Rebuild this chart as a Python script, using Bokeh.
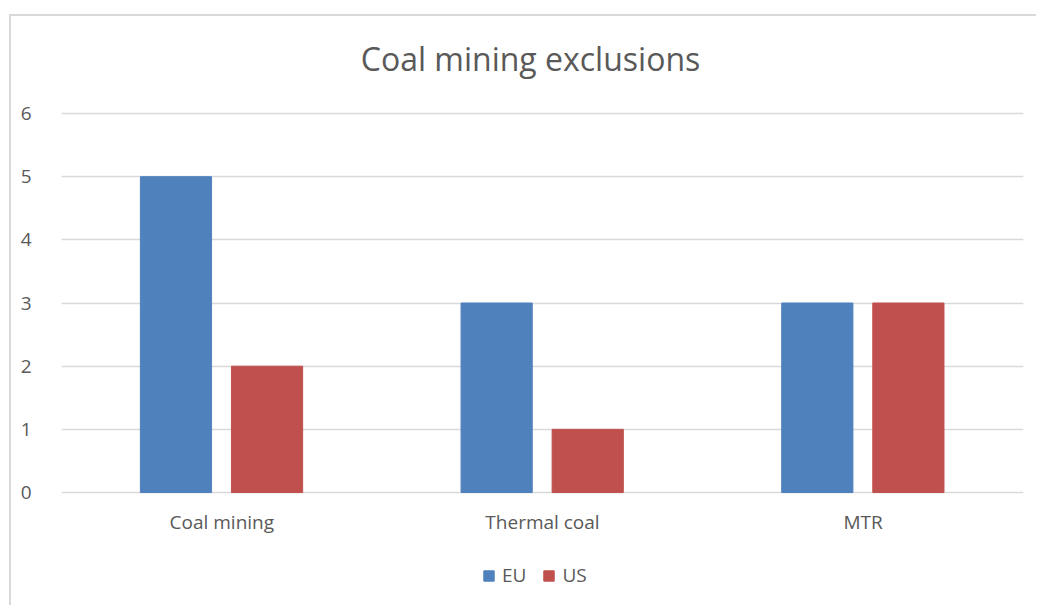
from bokeh.plotting import figure
from bokeh.core.properties import value
from bokeh.models import ColumnDataSource, FactorRange, Range1d, Legend, LegendItem
from bokeh.transform import dodge
from bokeh.embed import file_html
from bokeh.resources import INLINE

# Data
title_text = "Coal mining exclusions"
categories = ["Coal mining", "Thermal coal", "MTR"]
eu_values = [5, 3, 3]
us_values = [2, 1, 3]
y_ticks = [0, 1, 2, 3, 4, 5, 6]

FONT = "Open Sans"
TEXT = "#595959"
GRID = "#d9d9d9"
BLUE = "#4F81BD"
RED = "#C0504D"

# The plot frame fills the chart area top to bottom: the title sits above
# the 6 line, the category names and the legend below the zero line.
Y_MIN, Y_MAX = -1.82, 7.536
LABEL_Y = -0.46
TITLE_Y = 6.87

source = ColumnDataSource(data=dict(cat=categories, eu=eu_values, us=us_values,
                                    label_y=[LABEL_Y] * len(categories)))
title_source = ColumnDataSource(data=dict(x=[categories[1]], y=[TITLE_Y], text=[title_text]))

p = figure(
    x_range=FactorRange(*categories, range_padding=0),
    y_range=Range1d(Y_MIN, Y_MAX),
    width=1027, height=591,
    output_backend="svg", toolbar_location=None,
    min_border_left=50, min_border_right=15,
    min_border_top=0, min_border_bottom=0,
)
p.margin = (14, 0, 0, 9)
p.styles = {"border-left": f"2px solid {GRID}", "border-top": f"2px solid {GRID}"}

p.outline_line_color = None
p.background_fill_color = "white"
p.border_fill_color = "white"

# Grid
p.xgrid.grid_line_color = None
p.ygrid.grid_line_color = GRID
p.ygrid.grid_line_width = 1.5

# Axes
p.xaxis.visible = False
p.yaxis.ticker = y_ticks
p.yaxis.axis_line_color = None
p.yaxis.major_tick_line_color = None
p.yaxis.minor_tick_line_color = None
p.yaxis.major_label_text_font = FONT
p.yaxis.major_label_text_font_size = "19px"
p.yaxis.major_label_text_color = TEXT
p.yaxis.major_label_standoff = 24

# Title
p.text(x="x", y="y", text="text", source=title_source, x_offset=-12,
       text_align="center", text_baseline="middle",
       text_font=value(FONT), text_font_size=value("32px"), text_color=TEXT)

# Bars
bw = 0.222
r_eu = p.vbar(x=dodge("cat", -0.143, range=p.x_range), top="eu", width=bw,
              source=source, fill_color=BLUE, line_color=BLUE)
r_us = p.vbar(x=dodge("cat", 0.141, range=p.x_range), top="us", width=bw,
              source=source, fill_color=RED, line_color=RED)

# Category names under each group
p.text(x="cat", y="label_y", text="cat", source=source,
       text_align="center", text_baseline="middle",
       text_font=value(FONT), text_font_size=value("19px"), text_color=TEXT)

legend = Legend(
    items=[LegendItem(label="EU", renderers=[r_eu]), LegendItem(label="US", renderers=[r_us])],
    orientation="horizontal", location=(421, 19),
    glyph_width=13, glyph_height=13, label_standoff=7, spacing=16,
    label_text_font=FONT, label_text_font_size="19px", label_text_color=TEXT,
    border_line_color=None, background_fill_alpha=0, padding=0, margin=0,
)
p.add_layout(legend, "center")

open("out.html", "w").write(file_html(p, INLINE))
